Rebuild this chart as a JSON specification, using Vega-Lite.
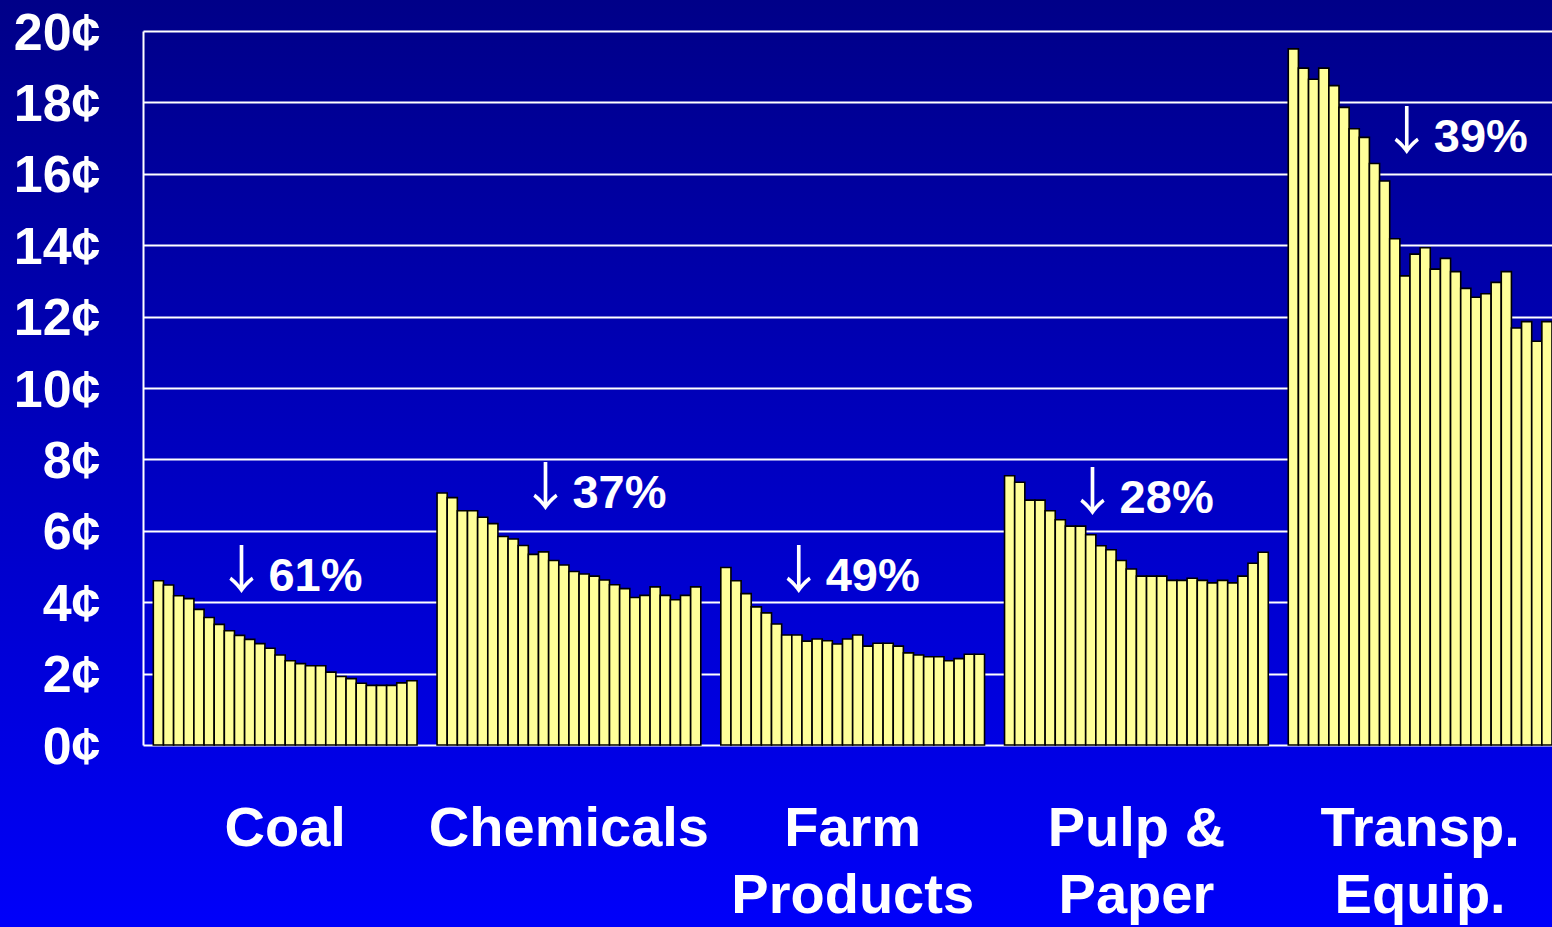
{
  "$schema": "https://vega.github.io/schema/vega-lite/v6.json",
  "width": 1552,
  "height": 927,
  "autosize": {"type": "none"},
  "padding": 0,
  "background": "#0000c0",
  "view": {
    "stroke": null,
    "fill": {"gradient": "linear", "x1": 0, "y1": 0, "x2": 0, "y2": 1,
      "stops": [{"offset": 0, "color": "#000088"}, {"offset": 1, "color": "#0000fa"}]}
  },
  "config": {"font": "Liberation Sans"},
  "datasets": {
    "bars": [
      {"category": "Coal", "year": 1981, "cents": 4.60}, {"category": "Coal", "year": 1982, "cents": 4.48}, {"category": "Coal", "year": 1983, "cents": 4.18}, {"category": "Coal", "year": 1984, "cents": 4.10}, {"category": "Coal", "year": 1985, "cents": 3.80}, {"category": "Coal", "year": 1986, "cents": 3.57}, {"category": "Coal", "year": 1987, "cents": 3.38}, {"category": "Coal", "year": 1988, "cents": 3.20}, {"category": "Coal", "year": 1989, "cents": 3.07}, {"category": "Coal", "year": 1990, "cents": 2.96}, {"category": "Coal", "year": 1991, "cents": 2.84}, {"category": "Coal", "year": 1992, "cents": 2.71}, {"category": "Coal", "year": 1993, "cents": 2.52}, {"category": "Coal", "year": 1994, "cents": 2.36}, {"category": "Coal", "year": 1995, "cents": 2.28}, {"category": "Coal", "year": 1996, "cents": 2.22}, {"category": "Coal", "year": 1997, "cents": 2.22}, {"category": "Coal", "year": 1998, "cents": 2.04}, {"category": "Coal", "year": 1999, "cents": 1.92}, {"category": "Coal", "year": 2000, "cents": 1.86}, {"category": "Coal", "year": 2001, "cents": 1.73}, {"category": "Coal", "year": 2002, "cents": 1.67}, {"category": "Coal", "year": 2003, "cents": 1.67}, {"category": "Coal", "year": 2004, "cents": 1.67}, {"category": "Coal", "year": 2005, "cents": 1.74}, {"category": "Coal", "year": 2006, "cents": 1.80},
      {"category": "Chemicals", "year": 1981, "cents": 7.06}, {"category": "Chemicals", "year": 1982, "cents": 6.93}, {"category": "Chemicals", "year": 1983, "cents": 6.56}, {"category": "Chemicals", "year": 1984, "cents": 6.56}, {"category": "Chemicals", "year": 1985, "cents": 6.38}, {"category": "Chemicals", "year": 1986, "cents": 6.20}, {"category": "Chemicals", "year": 1987, "cents": 5.84}, {"category": "Chemicals", "year": 1988, "cents": 5.77}, {"category": "Chemicals", "year": 1989, "cents": 5.59}, {"category": "Chemicals", "year": 1990, "cents": 5.34}, {"category": "Chemicals", "year": 1991, "cents": 5.41}, {"category": "Chemicals", "year": 1992, "cents": 5.17}, {"category": "Chemicals", "year": 1993, "cents": 5.04}, {"category": "Chemicals", "year": 1994, "cents": 4.86}, {"category": "Chemicals", "year": 1995, "cents": 4.79}, {"category": "Chemicals", "year": 1996, "cents": 4.73}, {"category": "Chemicals", "year": 1997, "cents": 4.62}, {"category": "Chemicals", "year": 1998, "cents": 4.49}, {"category": "Chemicals", "year": 1999, "cents": 4.38}, {"category": "Chemicals", "year": 2000, "cents": 4.13}, {"category": "Chemicals", "year": 2001, "cents": 4.19}, {"category": "Chemicals", "year": 2002, "cents": 4.43}, {"category": "Chemicals", "year": 2003, "cents": 4.19}, {"category": "Chemicals", "year": 2004, "cents": 4.07}, {"category": "Chemicals", "year": 2005, "cents": 4.19}, {"category": "Chemicals", "year": 2006, "cents": 4.43},
      {"category": "Farm Products", "year": 1981, "cents": 4.97}, {"category": "Farm Products", "year": 1982, "cents": 4.60}, {"category": "Farm Products", "year": 1983, "cents": 4.24}, {"category": "Farm Products", "year": 1984, "cents": 3.87}, {"category": "Farm Products", "year": 1985, "cents": 3.70}, {"category": "Farm Products", "year": 1986, "cents": 3.39}, {"category": "Farm Products", "year": 1987, "cents": 3.08}, {"category": "Farm Products", "year": 1988, "cents": 3.08}, {"category": "Farm Products", "year": 1989, "cents": 2.91}, {"category": "Farm Products", "year": 1990, "cents": 2.97}, {"category": "Farm Products", "year": 1991, "cents": 2.92}, {"category": "Farm Products", "year": 1992, "cents": 2.83}, {"category": "Farm Products", "year": 1993, "cents": 2.97}, {"category": "Farm Products", "year": 1994, "cents": 3.08}, {"category": "Farm Products", "year": 1995, "cents": 2.77}, {"category": "Farm Products", "year": 1996, "cents": 2.85}, {"category": "Farm Products", "year": 1997, "cents": 2.85}, {"category": "Farm Products", "year": 1998, "cents": 2.77}, {"category": "Farm Products", "year": 1999, "cents": 2.58}, {"category": "Farm Products", "year": 2000, "cents": 2.52}, {"category": "Farm Products", "year": 2001, "cents": 2.47}, {"category": "Farm Products", "year": 2002, "cents": 2.47}, {"category": "Farm Products", "year": 2003, "cents": 2.36}, {"category": "Farm Products", "year": 2004, "cents": 2.42}, {"category": "Farm Products", "year": 2005, "cents": 2.54}, {"category": "Farm Products", "year": 2006, "cents": 2.54},
      {"category": "Pulp & Paper", "year": 1981, "cents": 7.54}, {"category": "Pulp & Paper", "year": 1982, "cents": 7.36}, {"category": "Pulp & Paper", "year": 1983, "cents": 6.86}, {"category": "Pulp & Paper", "year": 1984, "cents": 6.86}, {"category": "Pulp & Paper", "year": 1985, "cents": 6.56}, {"category": "Pulp & Paper", "year": 1986, "cents": 6.31}, {"category": "Pulp & Paper", "year": 1987, "cents": 6.13}, {"category": "Pulp & Paper", "year": 1988, "cents": 6.13}, {"category": "Pulp & Paper", "year": 1989, "cents": 5.89}, {"category": "Pulp & Paper", "year": 1990, "cents": 5.58}, {"category": "Pulp & Paper", "year": 1991, "cents": 5.47}, {"category": "Pulp & Paper", "year": 1992, "cents": 5.17}, {"category": "Pulp & Paper", "year": 1993, "cents": 4.93}, {"category": "Pulp & Paper", "year": 1994, "cents": 4.73}, {"category": "Pulp & Paper", "year": 1995, "cents": 4.73}, {"category": "Pulp & Paper", "year": 1996, "cents": 4.73}, {"category": "Pulp & Paper", "year": 1997, "cents": 4.61}, {"category": "Pulp & Paper", "year": 1998, "cents": 4.61}, {"category": "Pulp & Paper", "year": 1999, "cents": 4.67}, {"category": "Pulp & Paper", "year": 2000, "cents": 4.61}, {"category": "Pulp & Paper", "year": 2001, "cents": 4.54}, {"category": "Pulp & Paper", "year": 2002, "cents": 4.61}, {"category": "Pulp & Paper", "year": 2003, "cents": 4.54}, {"category": "Pulp & Paper", "year": 2004, "cents": 4.73}, {"category": "Pulp & Paper", "year": 2005, "cents": 5.09}, {"category": "Pulp & Paper", "year": 2006, "cents": 5.40},
      {"category": "Transp. Equip.", "year": 1981, "cents": 19.50}, {"category": "Transp. Equip.", "year": 1982, "cents": 18.96}, {"category": "Transp. Equip.", "year": 1983, "cents": 18.65}, {"category": "Transp. Equip.", "year": 1984, "cents": 18.96}, {"category": "Transp. Equip.", "year": 1985, "cents": 18.47}, {"category": "Transp. Equip.", "year": 1986, "cents": 17.86}, {"category": "Transp. Equip.", "year": 1987, "cents": 17.26}, {"category": "Transp. Equip.", "year": 1988, "cents": 17.02}, {"category": "Transp. Equip.", "year": 1989, "cents": 16.29}, {"category": "Transp. Equip.", "year": 1990, "cents": 15.80}, {"category": "Transp. Equip.", "year": 1991, "cents": 14.18}, {"category": "Transp. Equip.", "year": 1992, "cents": 13.14}, {"category": "Transp. Equip.", "year": 1993, "cents": 13.75}, {"category": "Transp. Equip.", "year": 1994, "cents": 13.93}, {"category": "Transp. Equip.", "year": 1995, "cents": 13.33}, {"category": "Transp. Equip.", "year": 1996, "cents": 13.63}, {"category": "Transp. Equip.", "year": 1997, "cents": 13.26}, {"category": "Transp. Equip.", "year": 1998, "cents": 12.79}, {"category": "Transp. Equip.", "year": 1999, "cents": 12.54}, {"category": "Transp. Equip.", "year": 2000, "cents": 12.64}, {"category": "Transp. Equip.", "year": 2001, "cents": 12.96}, {"category": "Transp. Equip.", "year": 2002, "cents": 13.26}, {"category": "Transp. Equip.", "year": 2003, "cents": 11.68}, {"category": "Transp. Equip.", "year": 2004, "cents": 11.86}, {"category": "Transp. Equip.", "year": 2005, "cents": 11.31}, {"category": "Transp. Equip.", "year": 2006, "cents": 11.86}
    ],
    "notes": [
      {"category": "Coal", "year": 1988, "at": 4.32, "arrow": "↓", "change": "61%"},
      {"category": "Chemicals", "year": 1990, "at": 6.64, "arrow": "↓", "change": "37%"},
      {"category": "Farm Products", "year": 1987, "at": 4.32, "arrow": "↓", "change": "49%"},
      {"category": "Pulp & Paper", "year": 1988, "at": 6.51, "arrow": "↓", "change": "28%"},
      {"category": "Transp. Equip.", "year": 1991, "at": 16.6, "arrow": "↓", "change": "39%"}
    ]
  },
  "layer": [
    {
      "data": {"name": "bars"},
      "mark": {"type": "bar", "fill": "#ffff99", "stroke": "#000000", "strokeWidth": 1.6},
      "encoding": {
        "x": {
          "field": "category", "type": "nominal", "sort": null,
          "scale": {"range": [143, 1552], "paddingInner": 0.0705, "paddingOuter": 0.0182, "align": 1},
          "axis": {
            "orient": "bottom", "offset": -182, "title": null, "domain": false, "ticks": false, "tickSize": 0,
            "labelAngle": 0, "labelFontSize": 56, "labelFontWeight": "bold", "labelColor": "#ffffff",
            "labelPadding": 56, "labelLineHeight": 67, "labelLimit": 0, "labelOverlap": false, "labelBaseline": "top",
            "labelExpr": "datum.value == 'Farm Products' ? ['Farm', 'Products'] : datum.value == 'Pulp & Paper' ? ['Pulp &', 'Paper'] : datum.value == 'Transp. Equip.' ? ['Transp.', 'Equip.'] : datum.value"
          }
        },
        "xOffset": {"field": "year", "type": "ordinal", "scale": {"paddingInner": 0, "paddingOuter": 0}},
        "y": {
          "field": "cents", "type": "quantitative",
          "scale": {"domain": [0, 20], "range": [745, 31], "nice": false},
          "axis": {
            "orient": "left", "offset": -143, "title": null, "values": [0, 2, 4, 6, 8, 10, 12, 14, 16, 18, 20],
            "labelExpr": "datum.value + '¢'", "labelFontSize": 52, "labelFontWeight": "bold", "labelColor": "#ffffff",
            "labelPadding": 43, "labelOffset": 2, "ticks": false, "tickSize": 0,
            "domain": true, "domainColor": "#ffffff", "domainWidth": 2,
            "grid": true, "gridColor": "#ffffff", "gridWidth": 2, "gridOpacity": 1
          }
        }
      }
    },
    {
      "data": {"name": "notes"},
      "mark": {"type": "text", "align": "left", "baseline": "alphabetic", "font": "Noto Sans CJK JP", "fontSize": 52, "fontWeight": "normal", "color": "#ffffff", "dx": -14, "dy": -2},
      "encoding": {
        "x": {"field": "category", "type": "nominal", "sort": null},
        "xOffset": {"field": "year", "type": "ordinal"},
        "y": {"field": "at", "type": "quantitative"},
        "text": {"field": "arrow"}
      }
    },
    {
      "data": {"name": "notes"},
      "mark": {"type": "text", "align": "left", "baseline": "alphabetic", "fontSize": 47, "fontWeight": "bold", "color": "#ffffff", "dx": 39},
      "encoding": {
        "x": {"field": "category", "type": "nominal", "sort": null},
        "xOffset": {"field": "year", "type": "ordinal"},
        "y": {"field": "at", "type": "quantitative"},
        "text": {"field": "change"}
      }
    }
  ]
}
